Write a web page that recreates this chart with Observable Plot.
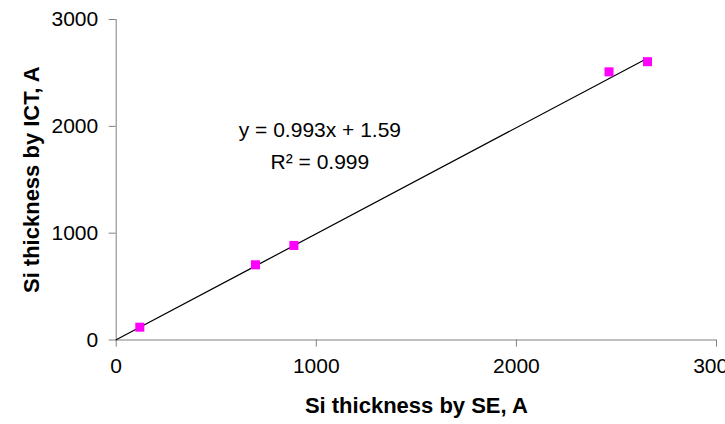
<!DOCTYPE html>
<html>
<head>
<meta charset="utf-8">
<script src="https://cdn.jsdelivr.net/npm/d3@7"></script>
<script src="https://cdn.jsdelivr.net/npm/@observablehq/plot@0.6"></script>
<style>
  html, body { margin: 0; padding: 0; background: #fff; overflow: hidden; }
  #chart { width: 725px; height: 424px; overflow: hidden; }
</style>
</head>
<body>
<div id="chart"></div>
<script>
// Data
const seThickness  = [118, 696, 888, 2463, 2655];   // x: Si thickness by SE, A
const ictThickness = [120, 704, 885, 2510, 2605];   // y: Si thickness by ICT, A
const xTicks = [0, 1000, 2000, 3000];
const yTicks = [0, 1000, 2000, 3000];
const xLabel = "Si thickness by SE, A";
const yLabel = "Si thickness by ICT, A";
// Linear trendline parameters
const slope = 0.993;
const intercept = 1.59;
const rSquared = 0.999;
const eqLines = ["y = 0.993x + 1.59", "R\u00B2 = 0.999"];
const eqX = [1018, 1018];
const eqY = [1961, 1665];

const points = seThickness.map((x, i) => ({x, y: ictThickness[i]}));
const trendX = [0, d3.max(seThickness)];
const trend = trendX.map(x => ({x, y: slope * x + intercept}));
const eq = eqLines.map((t, i) => ({t, x: eqX[i], y: eqY[i]}));

const font = "'Liberation Sans', Arial, sans-serif";
const axisGray = "#808080";

const chart = Plot.plot({
  width: 725,
  height: 424,
  marginLeft: 115.7,
  marginRight: 9,
  marginTop: 19,
  marginBottom: 84.5,
  style: {fontFamily: font, background: "#fff", color: "#000", overflow: "visible"},
  x: {domain: [0, 3000]},
  y: {domain: [0, 3000]},
  marks: [
    Plot.ruleX([0], {stroke: axisGray, strokeWidth: 1}),
    Plot.ruleY([0], {stroke: axisGray, strokeWidth: 1}),
    Plot.axisX({ticks: xTicks, tickFormat: d => String(d), tickSize: 7, tickPadding: 11,
      fontSize: 21, stroke: axisGray, label: null}),
    Plot.axisY({ticks: yTicks, tickFormat: d => String(d), tickSize: 7, tickPadding: 11,
      fontSize: 21, stroke: axisGray, label: null}),
    Plot.line(trend, {x: "x", y: "y", stroke: "#000", strokeWidth: 1.2}),
    Plot.dot(points, {x: "x", y: "y", symbol: "square", r: 5.1, fill: "#ff00ff", stroke: "none"}),
    Plot.text(eq, {x: "x", y: "y", text: "t", fontSize: 21, fill: "#000", textAnchor: "middle"}),
    Plot.text([xLabel], {frameAnchor: "bottom", textAnchor: "middle", dy: 73, fontSize: 22, fontWeight: "bold", fill: "#000"}),
    Plot.text([yLabel], {frameAnchor: "left", textAnchor: "middle", rotate: -90, dx: -84, fontSize: 22, fontWeight: "bold", fill: "#000"})
  ]
});
document.getElementById("chart").appendChild(chart);
</script>
</body>
</html>
